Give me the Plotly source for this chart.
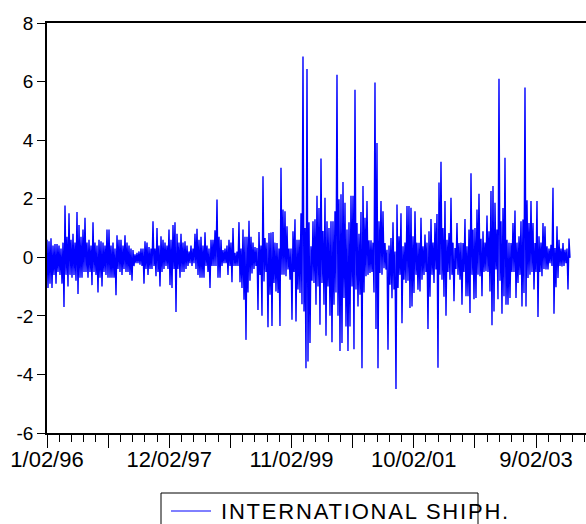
import numpy as np
import plotly.graph_objects as go

upper_swings = [
    0.6, 0.55, 0.65, 0.4, 0.45, 0.45, 0.4, 0.3, 0.5, 1.77,
    0.7, 1.5, 0.6, 0.8, 0.5, 1.55, 1.1, 0.7, 0.95, 1.35,
    0.5, 0.6, 0.4, 1.2, 0.5, 0.4, 0.6, 0.55, 0.5, 0.4,
    0.95, 0.95, 0.4, 0.5, 0.3, 0.75, 0.6, 0.6, 0.4, 0.75,
    0.5, 0.4, 0.3, 0.25, 0.1, 0.15, 0.2, 0.3, 0.3, 0.55,
    0.5, 0.35, 0.3, 1.23, 0.3, 1.0, 0.4, 0.72, 0.6, 0.5,
    0.4, 0.95, 0.6, 1.1, 1.2, 0.8, 0.5, 0.8, 0.5, 0.55,
    0.4, 0.2, 0.4, 0.3, 0.8, 0.97, 0.6, 0.7, 0.4, 0.85,
    0.4, 0.3, 0.6, 0.6, 0.92, 1.97, 0.7, 0.6, 0.25, 0.3,
    0.4, 0.6, 0.5, 1.0, 0.15, 0.2, 1.2, 0.3, 0.95, 0.7,
    0.7, 1.25, 0.7, 0.5, 0.35, 0.32, 0.86, 0.4, 2.77, 0.66,
    0.5, 0.83, 0.85, 0.86, 0.5, 0.49, 0.3, 3.06, 1.63, 1.57,
    1.06, 0.3, 0.3, 0.89, 1.3, 0.6, 0.6, 1.5, 6.86, 1.0,
    6.43, 1.2, 0.38, 1.23, 1.3, 2.1, 1.68, 3.37, 0.9, 2.03,
    1.23, 1.0, 1.23, 1.23, 1.57, 6.23, 1.98, 2.15, 2.57, 1.86,
    0.95, 1.2, 2.1, 2.1, 5.72, 1.17, 0.8, 1.55, 2.43, 1.35,
    1.92, 0.58, 0.58, 0.5, 5.97, 3.9, 1.23, 1.92, 1.57, 0.49,
    0.26, 0.4, 0.66, 1.2, 0.2, 1.8, 0.72, 1.5, 0.38, 0.5,
    1.75, 1.75, 1.69, 0.72, 1.57, 0.5, 0.5, 1.35, 0.38, 0.78,
    0.5, 0.89, 1.31, 0.5, 1.17, 1.48, 2.55, 3.26, 1.0, 1.92,
    0.6, 0.83, 2.03, 0.5, 0.32, 1.17, 0.49, 0.5, 0.49, 1.31,
    0.38, 0.95, 2.87, 0.95, 1.0, 1.63, 2.17, 0.63, 0.89, 0.5,
    1.43, 0.89, 2.26, 2.43, 1.86, 0.95, 6.1, 1.23, 1.68, 3.4,
    0.6, 0.5, 0.49, 1.17, 1.6, 0.5, 0.72, 1.23, 1.29, 5.8,
    1.95, 1.17, 1.92, 1.17, 0.49, 1.92, 0.72, 0.5, 1.17, 1.06,
    0.38, 0.3, 0.43, 2.37, 0.32, 1.06, 0.6, 0.3, 0.49, 0.26,
    0.3, 0.64,
]
lower_swings = [
    -1.05, -0.9, -1.05, -0.6, -0.9, -0.5, -0.6, -0.9, -1.7, -0.6,
    -1.0, -0.6, -0.7, -0.6, -0.8, -1.25, -0.7, -0.7, -0.5, -0.5,
    -0.7, -0.5, -0.95, -0.5, -0.6, -1.2, -0.7, -1.0, -0.5, -0.6,
    -0.7, -0.7, -0.7, -0.7, -1.3, -0.4, -0.5, -0.6, -0.4, -0.5,
    -0.5, -0.6, -0.8, -0.3, -0.2, -0.2, -0.25, -0.3, -0.9, -0.4,
    -0.6, -0.4, -0.4, -0.3, -0.65, -0.5, -1.0, -0.5, -0.4, -0.3,
    -0.4, -0.95, -1.05, -0.4, -1.87, -0.4, -0.7, -0.5, -0.5, -0.4,
    -0.3, -0.2, -0.3, -0.2, -0.4, -0.6, -0.7, -0.7, -0.7, -0.3,
    -0.5, -1.05, -0.3, -0.3, -0.3, -0.7, -0.7, -0.3, -0.2, -0.2,
    -0.6, -0.3, -0.85, -0.3, -0.3, -0.3, -0.85, -1.05, -1.45, -2.82,
    -1.2, -0.8, -0.55, -0.4, -0.3, -1.8, -0.6, -2.0, -0.83, -0.5,
    -2.39, -1.28, -2.35, -0.88, -1.17, -1.22, -2.35, -0.6, -0.6, -0.65,
    -0.42, -0.77, -2.13, -0.5, -2.19, -1.1, -1.22, -1.6, -1.85, -3.79,
    -3.56, -2.93, -0.8, -0.88, -1.62, -1.0, -2.3, -0.88, -1.62, -2.68,
    -1.0, -2.0, -2.9, -1.62, -1.2, -2.0, -3.2, -2.93, -1.39, -2.36,
    -3.2, -2.36, -1.0, -3.14, -1.1, -1.68, -1.28, -3.79, -1.2, -0.65,
    -0.6, -0.54, -0.5, -1.2, -2.45, -3.79, -0.54, -0.6, -0.37, -0.42,
    -3.16, -0.94, -1.4, -1.1, -4.5, -1.05, -0.6, -2.25, -0.77, -0.88,
    -0.8, -1.73, -1.68, -1.22, -0.6, -1.11, -1.17, -0.77, -0.6, -0.5,
    -2.45, -1.35, -0.6, -0.88, -0.42, -3.77, -0.6, -0.77, -1.35, -2.0,
    -0.5, -0.77, -0.6, -1.5, -0.4, -0.6, -0.77, -1.62, -0.5, -1.33,
    -1.33, -1.9, -0.6, -1.43, -1.39, -0.6, -0.65, -1.33, -0.5, -0.48,
    -0.5, -1.17, -2.32, -1.85, -0.42, -1.43, -0.8, -1.93, -1.33, -1.62,
    -1.62, -1.39, -0.5, -0.5, -1.39, -0.88, -0.6, -1.68, -1.22, -1.68,
    -0.71, -0.6, -0.5, -1.1, -0.5, -2.04, -0.5, -0.65, -0.4, -0.42,
    -0.42, -0.2, -0.3, -1.93, -1.02, -0.71, -0.3, -0.31, -0.3, -0.2,
    -1.1, -0.02,
]
n_observations = 2140
tick_labels = ["1/02/96", "12/02/97", "11/02/99", "10/02/01", "9/02/03"]
series_name = "INTERNATIONAL SHIPH."

values = []
for hi, lo in zip(upper_swings, lower_swings):
    values.extend([hi, lo])
obs = np.linspace(0, n_observations - 1, len(values))

W, H = 586, 524
ml, mt, mb, mr = 47, 23, 91, 0
px_per_obs = 0.2445
x_max = (W - ml - mr) / px_per_obs

major = list(range(0, 2251, 250))
major_text = [tick_labels[i // 2] if i % 2 == 0 and i // 2 < len(tick_labels) else "" for i in range(len(major))]

fig = go.Figure()
fig.add_trace(go.Scatter(x=obs, y=values, mode="lines",
                         line=dict(color="#0000FF", width=1.4), showlegend=False))

font = "Liberation Sans, Arial, sans-serif"
fig.update_layout(
    width=W, height=H,
    margin=dict(l=ml, r=mr, t=mt, b=mb, pad=0),
    paper_bgcolor="white", plot_bgcolor="white",
    font=dict(family=font, color="black"),
    xaxis=dict(range=[0, x_max], showgrid=False, zeroline=False,
               showline=True, linecolor="black", linewidth=1.5, mirror=True,
               tickmode="array", tickvals=major, ticktext=major_text,
               ticks="outside", ticklen=13, tickwidth=1.2, tickcolor="black",
               ticklabelstandoff=-7,
               tickfont=dict(size=22, family=font, color="black"),
               minor=dict(tickmode="linear", tick0=0, dtick=50, ticks="outside",
                          ticklen=7, tickwidth=1.2, tickcolor="black")),
    yaxis=dict(range=[-6, 8], showgrid=False, zeroline=False,
               showline=True, linecolor="black", linewidth=1.5, mirror=False,
               tickmode="array", tickvals=[-6, -4, -2, 0, 2, 4, 6, 8],
               ticktext=["-6", "-4", "-2", "0", "2", "4", "6", "8"],
               ticks="outside", ticklen=8, tickwidth=1.2, tickcolor="black",
               tickfont=dict(size=19, family=font, color="black")),
)

# legend box (drawn as in the original export)
fig.add_shape(type="rect", xref="paper", yref="paper",
              x0=(161 - ml) / (W - ml - mr), x1=(478 - ml) / (W - ml - mr),
              y0=(H - mb - 530) / (H - mt - mb), y1=(H - mb - 493) / (H - mt - mb),
              line=dict(color="black", width=1), fillcolor="rgba(0,0,0,0)")
fig.add_shape(type="line", xref="paper", yref="paper",
              x0=(171 - ml) / (W - ml - mr), x1=(211 - ml) / (W - ml - mr),
              y0=(H - mb - 511) / (H - mt - mb), y1=(H - mb - 511) / (H - mt - mb),
              line=dict(color="#0000FF", width=1))
fig.add_annotation(xref="paper", yref="paper", showarrow=False,
                   x=(219 - ml) / (W - ml - mr), y=(H - mb - 511) / (H - mt - mb),
                   xanchor="left", yanchor="middle",
                   text='<span style="letter-spacing:1.8px">' + series_name + '</span>',
                   font=dict(size=22, family=font, color="black"))

fig.write_html("out.html")
